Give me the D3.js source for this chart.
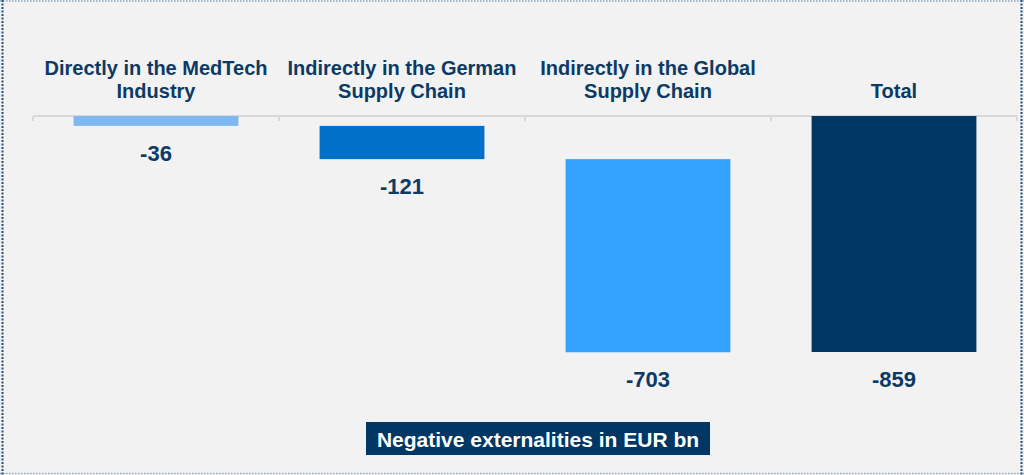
<!DOCTYPE html>
<html>
<head>
<meta charset="utf-8">
<script src="https://cdn.jsdelivr.net/npm/d3@7"></script>
<style>
  html, body { margin: 0; padding: 0; background: #f2f2f2; }
  svg { display: block; font-family: Arial, "Liberation Sans", sans-serif; }
</style>
</head>
<body>
<svg id="chart" width="1024" height="475"></svg>
<script>
// chart data
var categories = ["Directly in the MedTech\nIndustry", "Indirectly in the German\nSupply Chain", "Indirectly in the Global\nSupply Chain", "Total"];
var values = [-36, -121, -703, -859];
var isTotal = [false, false, false, true];
var barColors = ["#7fb7f0", "#0070c8", "#33a3ff", "#003764"];
var legendText = "Negative externalities in EUR bn";

var width = 1024, height = 475;
var svg = d3.select("#chart");
var navy = "#0d3a64";

// background + dotted frame
svg.append("rect").attr("width", width).attr("height", height).attr("fill", "#f2f2f2");
svg.append("line").attr("x1", 0).attr("x2", width).attr("y1", 1).attr("y2", 1)
  .attr("stroke", "#8ea6bf").attr("stroke-width", 1.5).attr("stroke-dasharray", "1.5,1.5");
svg.append("line").attr("x1", 0).attr("x2", width).attr("y1", 473.5).attr("y2", 473.5)
  .attr("stroke", "#8ea6bf").attr("stroke-width", 1.5).attr("stroke-dasharray", "1.5,1.5");
svg.append("line").attr("x1", 2.5).attr("x2", 2.5).attr("y1", 0).attr("y2", height)
  .attr("stroke", "#1f4e79").attr("stroke-width", 2).attr("stroke-dasharray", "2,1.5");
svg.append("line").attr("x1", 1021.5).attr("x2", 1021.5).attr("y1", 0).attr("y2", height)
  .attr("stroke", "#1f4e79").attr("stroke-width", 2).attr("stroke-dasharray", "2,1.5");

// build waterfall start/end
var bars = [];
var running = 0;
for (var i = 0; i < values.length; i++) {
  var start = isTotal[i] ? 0 : running;
  var end = start + values[i];
  if (!isTotal[i]) running = end;
  bars.push({ cat: categories[i], value: values[i], start: start, end: end, color: barColors[i] });
}

// scales
var xBand = d3.scaleBand().domain(categories).range([33, 1017]).padding(0);
var xBar = d3.scaleBand().domain(categories).range([33, 1017]).paddingInner(0.33).paddingOuter(0.165);
var y = d3.scaleLinear().domain([-859, 0]).range([352, 116]);

// axis line with tick marks at band edges
var axis = svg.append("g");
axis.append("line").attr("x1", 33).attr("x2", 1017).attr("y1", y(0)).attr("y2", y(0))
  .attr("stroke", "#d9d9d9").attr("stroke-width", 2);
var edges = categories.map(function(c) { return xBand(c); }).concat([xBand.range()[1]]);
axis.selectAll(".tick").data(edges).enter().append("line")
  .attr("x1", function(d) { return d; }).attr("x2", function(d) { return d; })
  .attr("y1", y(0)).attr("y2", y(0) + 5)
  .attr("stroke", "#d9d9d9").attr("stroke-width", 2);

// bars
svg.selectAll(".bar").data(bars).enter().append("rect")
  .attr("x", function(d) { return xBar(d.cat); })
  .attr("width", xBar.bandwidth())
  .attr("y", function(d) { return y(Math.max(d.start, d.end)); })
  .attr("height", function(d) { return Math.abs(y(d.end) - y(d.start)); })
  .attr("fill", function(d) { return d.color; });

// value labels
svg.selectAll(".val").data(bars).enter().append("text")
  .attr("x", function(d) { return xBand(d.cat) + xBand.bandwidth() / 2; })
  .attr("y", function(d) { return y(Math.min(d.start, d.end)) + 35; })
  .attr("text-anchor", "middle")
  .attr("font-size", "22px").attr("font-weight", "bold").attr("fill", navy)
  .text(function(d) { return d.value; });

// category labels (bottom aligned)
var catText = svg.selectAll(".cat").data(categories).enter().append("text")
  .attr("text-anchor", "middle")
  .attr("font-size", "20px").attr("font-weight", "bold").attr("fill", navy);
catText.each(function(c) {
  var lines = c.split("\n");
  var cx = xBand(c) + xBand.bandwidth() / 2;
  var t = d3.select(this);
  lines.forEach(function(l, j) {
    t.append("tspan").attr("x", cx)
      .attr("y", 98 - (lines.length - 1 - j) * 23)
      .text(l);
  });
});

// legend box
var lg = svg.append("g");
var lt = lg.append("text").attr("x", 538).attr("y", 447)
  .attr("text-anchor", "middle")
  .attr("font-size", "21px").attr("font-weight", "bold").attr("fill", "#ffffff")
  .text(legendText);
var bb = lt.node().getBBox();
lg.insert("rect", "text").attr("x", 366).attr("y", 422).attr("width", 344).attr("height", 33)
  .attr("fill", "#003764");
</script>
</body>
</html>
